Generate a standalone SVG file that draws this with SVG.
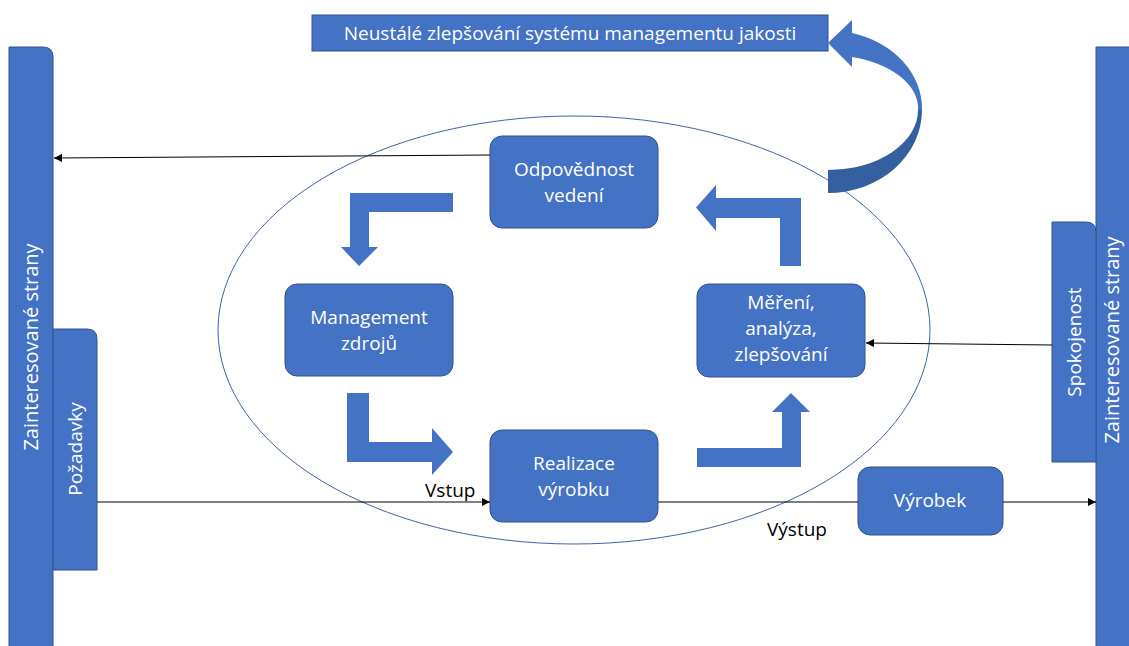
<svg xmlns="http://www.w3.org/2000/svg" width="1129" height="646" viewBox="0 0 1129 646">
  <defs>
    <style>
      .shape { fill: #4472C4; stroke: #2F528F; stroke-width: 1; }
      .label { font-family: "Open Sans", "Liberation Sans", sans-serif; font-size: 19px; fill: #FFFFFF; text-anchor: middle; }
      .side { font-size: 20px; }
      .plain { font-family: "Open Sans", "Liberation Sans", sans-serif; font-size: 19px; fill: #000000; }
      .link { stroke: #000000; stroke-width: 1; fill: none; marker-end: url(#arrow); }
    </style>
    <marker id="arrow" viewBox="0 0 10 10" refX="10" refY="5" markerWidth="8" markerHeight="8" markerUnits="userSpaceOnUse" orient="auto">
      <path d="M0,0 L10,5 L0,10 Z" fill="#000000"/>
    </marker>
  </defs>
  <rect width="1129" height="646" fill="#FFFFFF"/>

  <!-- Process boundary -->
  <ellipse id="process-boundary" cx="574" cy="330" rx="356" ry="214" fill="none" stroke="#3F64A8" stroke-width="1"/>

  <!-- Stakeholder bars -->
  <g id="stakeholders-left">
    <path class="shape" d="M9,47 H43 Q53,47 53,57 V647 H9 Z"/>
    <text class="label side" transform="translate(38,347) rotate(-90)">Zainteresované strany</text>
  </g>
  <g id="requirements">
    <path class="shape" d="M53,329 H87 Q97,329 97,339 V570 H53 Z"/>
    <text class="label" transform="translate(82,449) rotate(-90)">Požadavky</text>
  </g>
  <g id="stakeholders-right">
    <path class="shape" d="M1096,47 H1130 V647 H1096 Z"/>
    <text class="label side" transform="translate(1119,340) rotate(-90)">Zainteresované strany</text>
  </g>
  <g id="satisfaction">
    <path class="shape" d="M1052,222 H1086 Q1096,222 1096,232 V462 H1052 Z"/>
    <text class="label" transform="translate(1081,342) rotate(-90)">Spokojenost</text>
  </g>

  <!-- Continual improvement banner -->
  <g id="improvement">
    <rect class="shape" x="312" y="15" width="516" height="36"/>
    <text class="label" x="570" y="40">Neustálé zlepšování systému managementu jakosti</text>
  </g>

  <!-- Curved improvement arrow -->
  <g id="improvement-arrow">
    <path d="M828,170 A90,60 0 0 0 918,110 L922,110 A94,83 0 0 1 828,193 Z" fill="#35609F"/>
    <path d="M852,57 A90,53 0 0 1 918,110 L922,110 A94,78 0 0 0 852,33 Z" fill="#4472C4"/>
    <path d="M828,43 L852,20 L852,67 Z" fill="#4472C4"/>
  </g>

  <!-- Process nodes -->
  <g id="leadership">
    <rect class="shape" x="490" y="136" width="168" height="92" rx="12"/>
    <text class="label" x="574" y="176">Odpovědnost</text>
    <text class="label" x="574" y="202">vedení</text>
  </g>
  <g id="resources">
    <rect class="shape" x="285" y="284" width="168" height="92" rx="12"/>
    <text class="label" x="369" y="324">Management</text>
    <text class="label" x="369" y="350">zdrojů</text>
  </g>
  <g id="measurement">
    <rect class="shape" x="697" y="284" width="168" height="93" rx="12"/>
    <text class="label" x="781" y="309">Měření,</text>
    <text class="label" x="781" y="335">analýza,</text>
    <text class="label" x="781" y="361">zlepšování</text>
  </g>
  <g id="realization">
    <rect class="shape" x="490" y="430" width="168" height="92" rx="12"/>
    <text class="label" x="574" y="470">Realizace</text>
    <text class="label" x="574" y="496">výrobku</text>
  </g>
  <g id="product">
    <rect class="shape" x="858" y="467" width="145" height="68" rx="12"/>
    <text class="label" x="930" y="507">Výrobek</text>
  </g>

  <!-- Cycle arrows -->
  <g id="cycle-arrows" class="shape" style="stroke:none">
    <polygon points="453,193 350,193 350,247 341,247 359,266 378,247 369,247 369,212 453,212"/>
    <polygon points="347,393 369,393 369,442 432,442 432,428 453,452 432,475 432,462 347,462"/>
    <polygon points="697,448 782,448 782,412 772,412 791,393 810,412 801,412 801,467 697,467"/>
    <polygon points="801,266 801,198 716,198 716,185 696,207.5 716,231 716,218 780,218 780,266"/>
  </g>

  <!-- Connectors -->
  <g id="connectors">
    <line class="link" x1="490" y1="155" x2="54" y2="158"/>
    <line class="link" x1="1052" y1="345" x2="866" y2="343"/>
    <line class="link" x1="97" y1="502" x2="490" y2="502"/>
    <line x1="658" y1="502" x2="858" y2="502" stroke="#000000" stroke-width="1"/>
    <line class="link" x1="1003" y1="502" x2="1096" y2="502"/>
  </g>

  <!-- Flow labels -->
  <text class="plain" x="425" y="497">Vstup</text>
  <text class="plain" x="767" y="536">Výstup</text>
</svg>
